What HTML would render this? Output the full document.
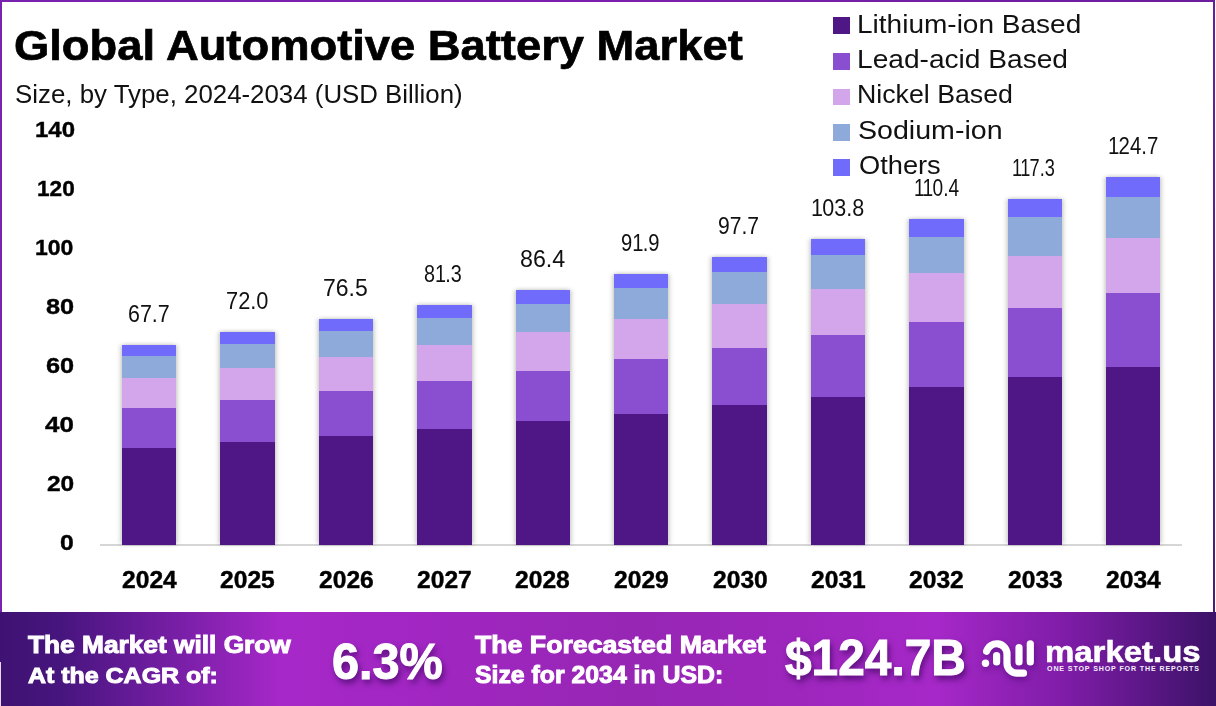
<!DOCTYPE html>
<html><head><meta charset="utf-8"><style>
html,body{margin:0;padding:0;}
body{width:1216px;height:706px;overflow:hidden;position:relative;background:#fff;font-family:"Liberation Sans",sans-serif;}
.t{position:absolute;line-height:1;white-space:nowrap;transform-origin:0 0;}
.bar{position:absolute;box-shadow:-2px 0 4px 0 rgba(60,60,50,.22),2px 0 4px 0 rgba(60,60,50,.22);}
.seg{position:absolute;}
.sq{position:absolute;width:17px;height:16.5px;}
#bl{position:absolute;left:0;top:0;width:2px;height:612px;background:#7a22b0;}
#bt{position:absolute;left:0;top:0;width:1215px;height:2px;background:linear-gradient(90deg,#7a22b0,#7d1fae 50%,#6a1d9c);}
#br{position:absolute;left:1213px;top:0;width:2px;height:612px;background:linear-gradient(180deg,#6a1d9c,#4d1a7a);}
#axis{position:absolute;left:100px;top:544px;width:1082px;height:2px;background:#d6d6d6;}
#ban{position:absolute;left:0;top:612px;width:1216px;height:94px;background:linear-gradient(90deg,#3e1272 0%,#47157e 5%,#7a1fa8 15%,#a628c8 23%,#a126c2 35%,#9726b4 52%,#9d26bc 65%,#a628c8 77%,#7d1ca6 88%,#3c1268 100%);}
</style></head><body>
<div id="bl"></div><div id="bt"></div><div id="br"></div>
<div id="axis"></div>
<div class="bar" style="left:122.00px;top:344.99px;width:54.40px;height:199.51px"></div><div class="seg" style="left:122.00px;top:447.74px;width:54.40px;height:97.26px;background:#4e1785"></div><div class="seg" style="left:122.00px;top:407.83px;width:54.40px;height:40.40px;background:#8a4fd0"></div><div class="seg" style="left:122.00px;top:377.71px;width:54.40px;height:30.63px;background:#d3a6ec"></div><div class="seg" style="left:122.00px;top:355.76px;width:54.40px;height:22.45px;background:#8eaadb"></div><div class="seg" style="left:122.00px;top:344.99px;width:54.40px;height:10.77px;background:#716bfb"></div><div class="bar" style="left:220.40px;top:332.32px;width:54.40px;height:212.18px"></div><div class="seg" style="left:220.40px;top:441.59px;width:54.40px;height:103.41px;background:#4e1785"></div><div class="seg" style="left:220.40px;top:399.15px;width:54.40px;height:42.94px;background:#8a4fd0"></div><div class="seg" style="left:220.40px;top:367.11px;width:54.40px;height:32.54px;background:#d3a6ec"></div><div class="seg" style="left:220.40px;top:343.77px;width:54.40px;height:23.84px;background:#8eaadb"></div><div class="seg" style="left:220.40px;top:332.32px;width:54.40px;height:11.46px;background:#716bfb"></div><div class="bar" style="left:318.80px;top:319.05px;width:54.40px;height:225.45px"></div><div class="seg" style="left:318.80px;top:435.16px;width:54.40px;height:109.84px;background:#4e1785"></div><div class="seg" style="left:318.80px;top:390.07px;width:54.40px;height:45.59px;background:#8a4fd0"></div><div class="seg" style="left:318.80px;top:356.03px;width:54.40px;height:34.54px;background:#d3a6ec"></div><div class="seg" style="left:318.80px;top:331.23px;width:54.40px;height:25.30px;background:#8eaadb"></div><div class="seg" style="left:318.80px;top:319.05px;width:54.40px;height:12.17px;background:#716bfb"></div><div class="bar" style="left:417.20px;top:304.91px;width:54.40px;height:239.59px"></div><div class="seg" style="left:417.20px;top:428.30px;width:54.40px;height:116.70px;background:#4e1785"></div><div class="seg" style="left:417.20px;top:380.38px;width:54.40px;height:48.42px;background:#8a4fd0"></div><div class="seg" style="left:417.20px;top:344.20px;width:54.40px;height:36.68px;background:#d3a6ec"></div><div class="seg" style="left:417.20px;top:317.85px;width:54.40px;height:26.86px;background:#8eaadb"></div><div class="seg" style="left:417.20px;top:304.91px;width:54.40px;height:12.94px;background:#716bfb"></div><div class="bar" style="left:515.60px;top:289.88px;width:54.40px;height:254.62px"></div><div class="seg" style="left:515.60px;top:421.01px;width:54.40px;height:123.99px;background:#4e1785"></div><div class="seg" style="left:515.60px;top:370.08px;width:54.40px;height:51.42px;background:#8a4fd0"></div><div class="seg" style="left:515.60px;top:331.64px;width:54.40px;height:38.95px;background:#d3a6ec"></div><div class="seg" style="left:515.60px;top:303.63px;width:54.40px;height:28.51px;background:#8eaadb"></div><div class="seg" style="left:515.60px;top:289.88px;width:54.40px;height:13.75px;background:#716bfb"></div><div class="bar" style="left:614.00px;top:273.67px;width:54.40px;height:270.83px"></div><div class="seg" style="left:614.00px;top:413.15px;width:54.40px;height:131.85px;background:#4e1785"></div><div class="seg" style="left:614.00px;top:358.98px;width:54.40px;height:54.67px;background:#8a4fd0"></div><div class="seg" style="left:614.00px;top:318.09px;width:54.40px;height:41.40px;background:#d3a6ec"></div><div class="seg" style="left:614.00px;top:288.30px;width:54.40px;height:30.29px;background:#8eaadb"></div><div class="seg" style="left:614.00px;top:273.67px;width:54.40px;height:14.62px;background:#716bfb"></div><div class="bar" style="left:712.40px;top:256.58px;width:54.40px;height:287.92px"></div><div class="seg" style="left:712.40px;top:404.86px;width:54.40px;height:140.14px;background:#4e1785"></div><div class="seg" style="left:712.40px;top:347.27px;width:54.40px;height:58.08px;background:#8a4fd0"></div><div class="seg" style="left:712.40px;top:303.80px;width:54.40px;height:43.98px;background:#d3a6ec"></div><div class="seg" style="left:712.40px;top:272.13px;width:54.40px;height:32.17px;background:#8eaadb"></div><div class="seg" style="left:712.40px;top:256.58px;width:54.40px;height:15.55px;background:#716bfb"></div><div class="bar" style="left:810.80px;top:238.60px;width:54.40px;height:305.90px"></div><div class="seg" style="left:810.80px;top:396.14px;width:54.40px;height:148.86px;background:#4e1785"></div><div class="seg" style="left:810.80px;top:334.96px;width:54.40px;height:61.68px;background:#8a4fd0"></div><div class="seg" style="left:810.80px;top:288.77px;width:54.40px;height:46.69px;background:#d3a6ec"></div><div class="seg" style="left:810.80px;top:255.12px;width:54.40px;height:34.15px;background:#8eaadb"></div><div class="seg" style="left:810.80px;top:238.60px;width:54.40px;height:16.52px;background:#716bfb"></div><div class="bar" style="left:909.20px;top:219.15px;width:54.40px;height:325.35px"></div><div class="seg" style="left:909.20px;top:386.71px;width:54.40px;height:158.29px;background:#4e1785"></div><div class="seg" style="left:909.20px;top:321.64px;width:54.40px;height:65.57px;background:#8a4fd0"></div><div class="seg" style="left:909.20px;top:272.51px;width:54.40px;height:49.63px;background:#d3a6ec"></div><div class="seg" style="left:909.20px;top:236.72px;width:54.40px;height:36.29px;background:#8eaadb"></div><div class="seg" style="left:909.20px;top:219.15px;width:54.40px;height:17.57px;background:#716bfb"></div><div class="bar" style="left:1007.60px;top:198.82px;width:54.40px;height:345.68px"></div><div class="seg" style="left:1007.60px;top:376.84px;width:54.40px;height:168.16px;background:#4e1785"></div><div class="seg" style="left:1007.60px;top:307.71px;width:54.40px;height:69.64px;background:#8a4fd0"></div><div class="seg" style="left:1007.60px;top:255.51px;width:54.40px;height:52.70px;background:#d3a6ec"></div><div class="seg" style="left:1007.60px;top:217.48px;width:54.40px;height:38.53px;background:#8eaadb"></div><div class="seg" style="left:1007.60px;top:198.82px;width:54.40px;height:18.67px;background:#716bfb"></div><div class="bar" style="left:1106.00px;top:177.01px;width:54.40px;height:367.49px"></div><div class="seg" style="left:1106.00px;top:366.27px;width:54.40px;height:178.73px;background:#4e1785"></div><div class="seg" style="left:1106.00px;top:292.77px;width:54.40px;height:74.00px;background:#8a4fd0"></div><div class="seg" style="left:1106.00px;top:237.28px;width:54.40px;height:55.99px;background:#d3a6ec"></div><div class="seg" style="left:1106.00px;top:196.85px;width:54.40px;height:40.92px;background:#8eaadb"></div><div class="seg" style="left:1106.00px;top:177.01px;width:54.40px;height:19.84px;background:#716bfb"></div>
<div class="sq" style="left:833px;top:17.1px;background:#4e1785"></div><div class="sq" style="left:833px;top:53.1px;background:#8a4fd0"></div><div class="sq" style="left:833px;top:88.7px;background:#d3a6ec"></div><div class="sq" style="left:833px;top:124.3px;background:#8eaadb"></div><div class="sq" style="left:833px;top:159.2px;background:#716bfb"></div>
<div id="ban"></div><div style="position:absolute;left:0;top:662px;width:1px;height:44px;background:#e8d8f0"></div>
<svg style="position:absolute;left:970px;top:628px;filter:drop-shadow(1px 3px 3px rgba(50,0,90,.45))" width="75" height="60" viewBox="970 628 75 60"><g fill="none" stroke="#fff" stroke-width="7.2" stroke-linecap="round"><path d="M986.6 651.3 A10.4 10.4 0 0 1 1007 654.3 L1007 663.2 A10 10 0 0 0 1017 673.2 L1023.5 673.2"/><path d="M996.6 655.5 V662"/><path d="M1019 647.7 V662"/><path d="M1030.3 643.8 V662"/></g><circle cx="985.5" cy="663.3" r="3.7" fill="#fff"/></svg>

<div class="t" style="left:14.22px;top:24.88px;font-size:42.03px;font-weight:bold;color:#000;transform:scaleX(1.0788);-webkit-text-stroke:0.7px #000">Global Automotive Battery Market</div><div class="t" style="left:15.39px;top:81.72px;font-size:25.51px;font-weight:normal;color:#111;transform:scaleX(1.0134);">Size, by Type, 2024-2034 (USD Billion)</div><div class="t" style="left:34.85px;top:118.28px;font-size:22.82px;font-weight:bold;color:#000;transform:scaleX(1.0507);-webkit-text-stroke:0.4px #000"><span style="letter-spacing:-0.00px">1</span>40</div><div class="t" style="left:36.51px;top:177.31px;font-size:22.82px;font-weight:bold;color:#000;transform:scaleX(0.9902);-webkit-text-stroke:0.4px #000"><span style="letter-spacing:-0.00px">1</span>20</div><div class="t" style="left:35.29px;top:236.34px;font-size:22.82px;font-weight:bold;color:#000;transform:scaleX(1.0094);-webkit-text-stroke:0.4px #000"><span style="letter-spacing:-0.00px">1</span>00</div><div class="t" style="left:45.80px;top:295.37px;font-size:22.82px;font-weight:bold;color:#000;transform:scaleX(1.1103);-webkit-text-stroke:0.4px #000">80</div><div class="t" style="left:45.80px;top:354.40px;font-size:22.82px;font-weight:bold;color:#000;transform:scaleX(1.1103);-webkit-text-stroke:0.4px #000">60</div><div class="t" style="left:45.20px;top:413.43px;font-size:22.82px;font-weight:bold;color:#000;transform:scaleX(1.1346);-webkit-text-stroke:0.4px #000">40</div><div class="t" style="left:46.60px;top:472.46px;font-size:22.82px;font-weight:bold;color:#000;transform:scaleX(1.0738);-webkit-text-stroke:0.4px #000">20</div><div class="t" style="left:60.10px;top:531.49px;font-size:22.82px;font-weight:bold;color:#000;transform:scaleX(1.0833);-webkit-text-stroke:0.4px #000">0</div><div class="t" style="left:127.97px;top:302.92px;font-size:23.10px;font-weight:normal;color:#111;transform:scaleX(0.9285);">67.7</div><div class="t" style="left:121.75px;top:568.94px;font-size:23.10px;font-weight:bold;color:#000;transform:scaleX(1.0659);-webkit-text-stroke:0.4px #000">2024</div><div class="t" style="left:225.96px;top:290.25px;font-size:23.10px;font-weight:normal;color:#111;transform:scaleX(0.9447);">72.0</div><div class="t" style="left:220.15px;top:568.94px;font-size:23.10px;font-weight:bold;color:#000;transform:scaleX(1.0659);-webkit-text-stroke:0.4px #000">2025</div><div class="t" style="left:323.40px;top:276.99px;font-size:23.10px;font-weight:normal;color:#111;transform:scaleX(0.9958);">76.5</div><div class="t" style="left:319.08px;top:568.94px;font-size:23.10px;font-weight:bold;color:#000;transform:scaleX(1.0659);-webkit-text-stroke:0.4px #000">2026</div><div class="t" style="left:424.24px;top:262.84px;font-size:23.10px;font-weight:normal;color:#111;transform:scaleX(0.8563);">8<span style="letter-spacing:-0.81px">1</span>.3</div><div class="t" style="left:417.48px;top:568.94px;font-size:23.10px;font-weight:bold;color:#000;transform:scaleX(1.0659);-webkit-text-stroke:0.4px #000">2027</div><div class="t" style="left:520.19px;top:247.81px;font-size:23.10px;font-weight:normal;color:#111;transform:scaleX(1.0072);">86.4</div><div class="t" style="left:515.35px;top:568.94px;font-size:23.10px;font-weight:bold;color:#000;transform:scaleX(1.0659);-webkit-text-stroke:0.4px #000">2028</div><div class="t" style="left:621.43px;top:231.61px;font-size:23.10px;font-weight:normal;color:#111;transform:scaleX(0.8729);">9<span style="letter-spacing:-0.81px">1</span>.9</div><div class="t" style="left:614.28px;top:568.94px;font-size:23.10px;font-weight:bold;color:#000;transform:scaleX(1.0659);-webkit-text-stroke:0.4px #000">2029</div><div class="t" style="left:718.29px;top:214.51px;font-size:23.10px;font-weight:normal;color:#111;transform:scaleX(0.9122);">97.7</div><div class="t" style="left:712.68px;top:568.94px;font-size:23.10px;font-weight:bold;color:#000;transform:scaleX(1.0659);-webkit-text-stroke:0.4px #000">2030</div><div class="t" style="left:811.27px;top:196.54px;font-size:23.10px;font-weight:normal;color:#111;transform:scaleX(0.9327);"><span style="letter-spacing:-0.81px">1</span>03.8</div><div class="t" style="left:810.55px;top:568.94px;font-size:23.10px;font-weight:bold;color:#000;transform:scaleX(1.0659);-webkit-text-stroke:0.4px #000">2031</div><div class="t" style="left:913.57px;top:177.09px;font-size:23.10px;font-weight:normal;color:#111;transform:scaleX(0.8286);"><span style="letter-spacing:-0.81px">1</span><span style="letter-spacing:-0.81px">1</span>0.4</div><div class="t" style="left:909.48px;top:568.94px;font-size:23.10px;font-weight:bold;color:#000;transform:scaleX(1.0659);-webkit-text-stroke:0.4px #000">2032</div><div class="t" style="left:1012.11px;top:156.75px;font-size:23.10px;font-weight:normal;color:#111;transform:scaleX(0.7873);"><span style="letter-spacing:-0.81px">1</span><span style="letter-spacing:-0.81px">1</span>7.3</div><div class="t" style="left:1007.88px;top:568.94px;font-size:23.10px;font-weight:bold;color:#000;transform:scaleX(1.0659);-webkit-text-stroke:0.4px #000">2033</div><div class="t" style="left:1107.52px;top:134.94px;font-size:23.10px;font-weight:normal;color:#111;transform:scaleX(0.8819);"><span style="letter-spacing:-0.81px">1</span>24.7</div><div class="t" style="left:1105.75px;top:568.94px;font-size:23.10px;font-weight:bold;color:#000;transform:scaleX(1.0659);-webkit-text-stroke:0.4px #000">2034</div><div class="t" style="left:857.35px;top:11.81px;font-size:24.93px;font-weight:normal;color:#111;transform:scaleX(1.1241);">Lithium-ion Based</div><div class="t" style="left:857.34px;top:46.61px;font-size:24.93px;font-weight:normal;color:#111;transform:scaleX(1.1278);">Lead-acid Based</div><div class="t" style="left:857.46px;top:82.31px;font-size:24.93px;font-weight:normal;color:#111;transform:scaleX(1.0723);">Nickel Based</div><div class="t" style="left:858.45px;top:117.61px;font-size:24.93px;font-weight:normal;color:#111;transform:scaleX(1.1472);">Sodium-ion</div><div class="t" style="left:858.51px;top:153.01px;font-size:24.93px;font-weight:normal;color:#111;transform:scaleX(1.0929);">Others</div><div class="t" style="left:27.90px;top:633.92px;font-size:23.62px;font-weight:bold;color:#fff;transform:scaleX(1.1129);-webkit-text-stroke:1px #fff">The Market will Grow</div><div class="t" style="left:27.90px;top:664.26px;font-size:22.75px;font-weight:bold;color:#fff;transform:scaleX(1.0965);-webkit-text-stroke:1px #fff">At the CAGR of:</div><div class="t" style="left:332.21px;top:637.63px;font-size:49.15px;font-weight:bold;color:#fff;transform:scaleX(0.9899);text-shadow:2px 4px 6px rgba(45,0,80,.7);-webkit-text-stroke:1px #fff">6.3%</div><div class="t" style="left:474.50px;top:633.92px;font-size:23.62px;font-weight:bold;color:#fff;transform:scaleX(1.1302);-webkit-text-stroke:1px #fff">The Forecasted Market</div><div class="t" style="left:474.50px;top:663.06px;font-size:24.64px;font-weight:bold;color:#fff;transform:scaleX(1.0077);-webkit-text-stroke:1px #fff">Size for 2034 in USD:</div><div class="t" style="left:785.40px;top:634.47px;font-size:49.57px;font-weight:bold;color:#fff;transform:scaleX(0.9653);text-shadow:2px 4px 6px rgba(45,0,80,.7);-webkit-text-stroke:1px #fff">$124.7B</div><div class="t" style="left:1044.83px;top:635.68px;font-size:30.38px;font-weight:bold;color:#fff;transform:scaleX(1.0843);-webkit-text-stroke:0.6px #fff">market.us</div><div class="t" style="left:1047.00px;top:665.76px;font-size:7.10px;font-weight:bold;color:#f4eefc;transform:scaleX(1.0000);;letter-spacing:0.863px">ONE STOP SHOP FOR THE REPORTS</div>
</body></html>
